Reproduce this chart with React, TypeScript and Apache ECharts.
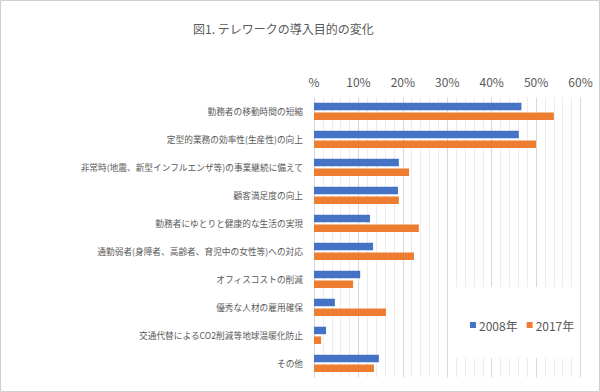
import React, { useEffect, useRef } from "react";
import * as echarts from "echarts";

const titleText = "図1. テレワークの導入目的の変化";
const categories = [
  "勤務者の移動時間の短縮",
  "定型的業務の効率性(生産性)の向上",
  "非常時(地震、新型インフルエンザ等)の事業継続に備えて",
  "顧客満足度の向上",
  "勤務者にゆとりと健康的な生活の実現",
  "通勤弱者(身障者、高齢者、育児中の女性等)への対応",
  "オフィスコストの削減",
  "優秀な人材の雇用確保",
  "交通代替によるCO2削減等地球温暖化防止",
  "その他",
];
const seriesNames = ["2008年", "2017年"];
const values2008 = [46.7, 46.1, 19.1, 18.9, 12.6, 13.3, 10.4, 4.7, 2.7, 14.6];
const values2017 = [54.0, 50.0, 21.4, 19.1, 23.6, 22.5, 8.8, 16.2, 1.6, 13.5];
const axisMin = 0;
const axisMax = 60;
const axisStep = 10;

export default function App() {
  const ref = useRef<HTMLDivElement>(null);
  useEffect(() => {
    if (!ref.current) return;
    const chart = echarts.init(ref.current, null, { renderer: "svg" });
    const font = '"Noto Sans CJK JP", "Noto Sans", sans-serif';
    chart.setOption({
      animation: false,
      backgroundColor: "#ffffff",
      textStyle: { fontFamily: font },
      title: {
        text: titleText,
        left: 188,
        top: 17,
        textStyle: { fontSize: 12, fontWeight: "normal", color: "#595959", fontFamily: font },
      },
      grid: { left: 314, right: 19.5, top: 97.5, bottom: 14.7 },
      xAxis: {
        type: "value",
        position: "top",
        min: axisMin,
        max: axisMax,
        interval: axisStep,
        axisLine: { show: false },
        axisTick: { show: false },
        axisLabel: {
          color: "#595959",
          fontSize: 12,
          margin: 10,
          fontFamily: font,
          formatter: (v: number) => (v === 0 ? "%" : v + "%"),
        },
        splitLine: { show: true, lineStyle: { color: "#d9d9d9", width: 1 } },
        minorTick: { show: false, splitNumber: 5 },
        minorSplitLine: { show: true, lineStyle: { color: "#ececec", width: 1 } },
      },
      yAxis: {
        type: "category",
        inverse: true,
        data: categories,
        axisLine: { show: true, lineStyle: { color: "#d9d9d9" } },
        axisTick: { show: false },
        axisLabel: { color: "#595959", fontSize: 8.7, margin: 11, fontFamily: font },
      },
      legend: {
        data: seriesNames,
        left: 465,
        top: 314,
        itemWidth: 6,
        itemHeight: 6,
        itemGap: 9,
        icon: "rect",
        textStyle: { color: "#595959", fontSize: 12, fontFamily: font, padding: [0, 0, 0, -2] },
      },
      graphic: [
        {
          type: "rect",
          z: 3,
          shape: { x: 449, y: 287, width: 130.5, height: 71 },
          style: { fill: "#ffffff" },
        },
        {
          type: "rect",
          z: 10,
          shape: { x: 0.5, y: 0.5, width: 599, height: 391 },
          style: { fill: "none", stroke: "#d0d0d0", lineWidth: 1 },
        },
      ],
      series: [
        {
          name: seriesNames[0],
          type: "bar",
          data: values2008,
          barWidth: 7.5,
          barGap: "30%",
          itemStyle: { color: "#4472c4" },
        },
        {
          name: seriesNames[1],
          type: "bar",
          data: values2017,
          barWidth: 7.5,
          barGap: "30%",
          itemStyle: { color: "#ed7d31" },
        },
      ],
    });
    return () => chart.dispose();
  }, []);
  return (
    <div
      ref={ref}
      style={{ position: "absolute", left: 0, top: 0, width: 600, height: 392 }}
    />
  );
}
